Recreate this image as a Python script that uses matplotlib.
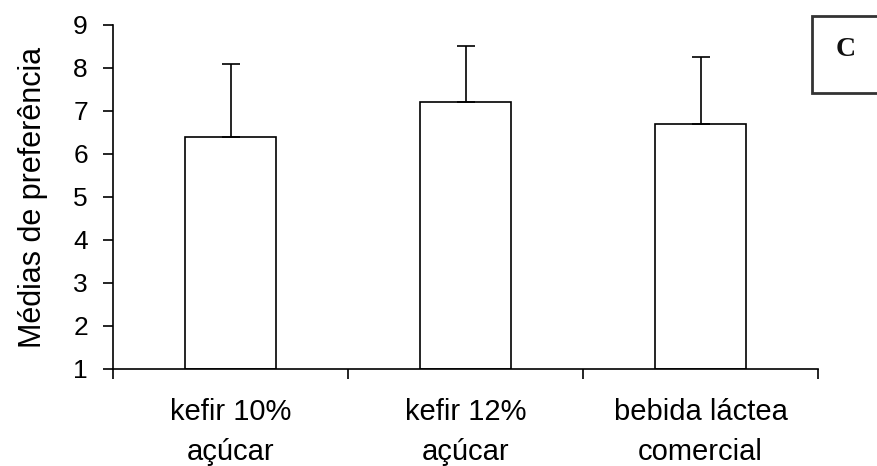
import matplotlib
matplotlib.use("Agg")
import matplotlib.pyplot as plt
from matplotlib.patches import Rectangle

categories = ["kefir 10%\naçúcar", "kefir 12%\naçúcar", "bebida láctea\ncomercial"]
means = [6.4, 7.2, 6.7]
upper_err = [1.7, 1.3, 1.55]
yticks = [1, 2, 3, 4, 5, 6, 7, 8, 9]

plt.rcParams['font.family'] = ['Liberation Sans', 'DejaVu Sans']

fig = plt.figure(figsize=(8.78, 4.66), dpi=100)
ax = fig.add_axes([0.1287, 0.2082, 0.803, 0.7382])

x = list(range(len(categories)))
ax.bar(x, [m - 1 for m in means], bottom=1, width=0.39, color="white",
       edgecolor="black", linewidth=1.2, zorder=2)
ax.errorbar(x, means, yerr=[[0] * len(means), upper_err], fmt="none",
            ecolor="black", elinewidth=1.2, capsize=6.5, capthick=1.2, zorder=3)

ax.set_xlim(-0.5, 2.5)
ax.set_ylim(1, 9)
ax.set_yticks(yticks)
ax.set_yticklabels([str(v) for v in yticks], fontsize=19)
ax.set_xticks([-0.5, 0.5, 1.5, 2.5])
ax.set_xticklabels([])
ax.set_xticks(x, minor=True)
ax.set_xticklabels(categories, minor=True, fontsize=21, linespacing=1.55)
ax.tick_params(axis="x", which="minor", length=0, pad=21)
ax.tick_params(axis="x", which="major", length=7, width=1.2, direction="out")
ax.tick_params(axis="y", length=7, width=1.2, direction="out", pad=11)

ax.spines["top"].set_visible(False)
ax.spines["right"].set_visible(False)
ax.spines["left"].set_linewidth(1.2)
ax.spines["bottom"].set_linewidth(1.2)

ax.set_ylabel("Médias de preferência", fontsize=22, labelpad=18)

# Panel label box "C"
box = Rectangle((812 / 878, 1 - 93 / 466), 0.1, 77 / 466, transform=fig.transFigure,
                facecolor="white", edgecolor="#333333", linewidth=2, zorder=5)
fig.patches.append(box)
fig.text(846 / 878, 1 - 49 / 466, "C", fontsize=20, fontweight="bold",
         family=["Liberation Serif", "DejaVu Serif"], ha="center", va="center",
         color="#111111", zorder=6)

fig.savefig("out.png", dpi=100)
